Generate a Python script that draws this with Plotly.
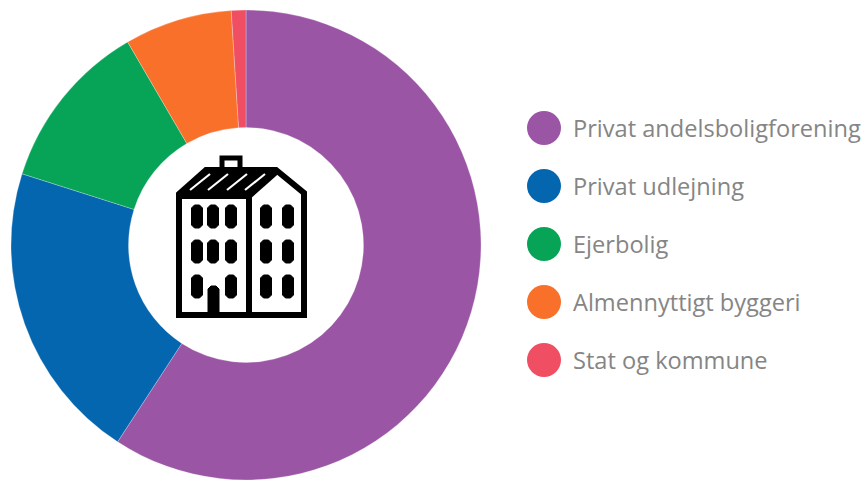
import plotly.graph_objects as go

categories = ["Privat andelsboligforening", "Privat udlejning", "Ejerbolig", "Almennyttigt byggeri", "Stat og kommune"]
shares = [59.2, 20.7, 11.7, 7.4, 1.0]
colors = ["#9b55a5", "#0566b0", "#07a457", "#f9702b", "#f04e63"]

W, H = 867, 480
def X(p): return p / W
def Y(p): return 1 - p / H

fig = go.Figure(go.Pie(
    labels=categories, values=shares, hole=0.5, sort=False, direction="clockwise",
    rotation=0, textinfo="none", showlegend=False,
    marker=dict(colors=colors, line=dict(color="rgba(255,255,255,0.5)", width=0.5)),
    domain=dict(x=[X(11), X(481)], y=[Y(480), Y(10)]),
))

shapes, annotations = [], []
def line(pts, width=6, color="#000000", fill=None, close=False):
    d = "M " + " L ".join(f"{X(x):.5f},{Y(y):.5f}" for x, y in pts) + (" Z" if close else "")
    shapes.append(dict(type="path", xref="paper", yref="paper", path=d,
                       line=dict(color=color, width=width),
                       fillcolor=fill if fill else "rgba(0,0,0,0)", layer="above"))

def rrect(x0, y0, x1, y1, r=3, color="#000000"):
    pts = [(x0 + r, y0), (x1 - r, y0), (x1, y0 + r), (x1, y1 - r), (x1 - r, y1), (x0 + r, y1), (x0, y1 - r), (x0, y0 + r)]
    line(pts, width=1, color=color, fill=color, close=True)

# chimney
line([(222, 167), (222, 158), (240, 158), (240, 167)], width=5)
# roof filled black with white stripes
line([(179, 194), (206, 170), (276, 170), (248, 194)], width=2, fill="#000000", close=True)
for a in [(188, 191), (206, 191), (225, 191), (243, 191)]:
    line([(a[0] + 2, a[1] - 1), (a[0] + 22, a[1] - 17)], width=2.2, color="#ffffff")
# outer body
line([(179, 194), (206, 170), (276, 170), (304, 193), (304, 315), (179, 315)], width=6, close=True, fill="rgba(0,0,0,0)")
line([(179, 196), (249, 196)], width=6)
line([(249, 196), (249, 315)], width=6)
line([(249, 196), (276, 172)], width=6)
# windows
for cx in [197, 213, 231, 266, 288]:
    for y0 in [205, 240, 275]:
        if cx == 213 and y0 == 275:
            continue
        rrect(cx - 5.5, y0, cx + 5.5, y0 + 23)
# door
rrect(208, 286, 219, 317)

# legend
ys = [128, 186, 244, 302, 360]
for name, c, y in zip(categories, colors, ys):
    shapes.append(dict(type="circle", xref="paper", yref="paper", x0=X(527), x1=X(561), y0=Y(y + 17), y1=Y(y - 17),
                       fillcolor=c, line=dict(width=0)))
    annotations.append(dict(text=name, xref="paper", yref="paper", x=X(571), y=Y(y), xanchor="left", yanchor="middle",
                            showarrow=False, font=dict(family="Open Sans", size=23.6, color="#858585")))

fig.update_layout(width=W, height=H, margin=dict(l=0, r=0, t=0, b=0), paper_bgcolor="white",
                  shapes=shapes, annotations=annotations)
fig.write_html("out.html", config=dict(displayModeBar=False),
               post_script="document.body.style.margin='0';document.documentElement.style.overflow='hidden';")
